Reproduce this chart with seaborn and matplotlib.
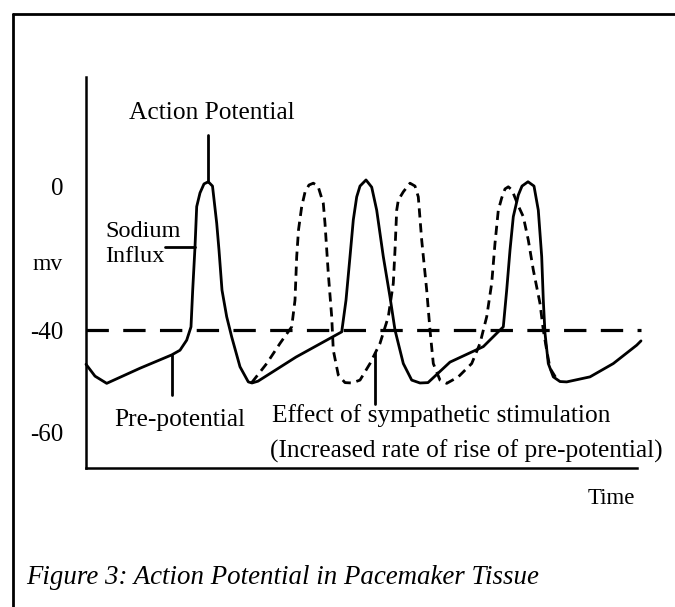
import numpy as np
import pandas as pd
import matplotlib.pyplot as plt
import seaborn as sns
from matplotlib.lines import Line2D

# === Data (time in arbitrary units, potential in mV) ===
normal_t = [0, 9, 20.7, 54, 85.7, 94, 100.7, 105, 106.7, 109, 110.7, 114, 118, 122.3,
            126.5, 130.7, 133, 136, 140.7, 145.7, 154, 162.3, 166, 172, 210, 255.7,
            260, 264, 267.3, 270.7, 274, 280, 285.7, 290.7, 297.3, 304, 309, 317.3,
            325.7, 334, 342, 364, 397.3, 414, 417.3, 420.7, 424, 427.3, 432.3, 436,
            442, 448, 452.3, 455.7, 457.3, 459, 462.3, 467.3, 474, 480.7, 504, 527.3,
            550.7, 555]
normal_mv = [-49.5, -52.8, -54.8, -50.6, -46.9, -45.6, -42.8, -39.1, -28.9, -16.9, -5.7,
             -1.9, 0.6, 1.2, 0, -10.3, -17.8, -28.9, -36.3, -41.9, -50.2, -54.4, -54.7,
             -54.2, -47.5, -40.5, -31.7, -19.6, -9.4, -3.0, 0, 1.7, -0.3, -6.7, -19.6,
             -30.8, -40.0, -49.3, -53.9, -54.7, -54.6, -48.9, -44.6, -40.0, -39.1, -28.9,
             -17.8, -8.5, -2.5, 0, 1.2, 0, -6.7, -19.6, -31.7, -40.9, -49.3, -53.0,
             -54.3, -54.4, -53.0, -49.3, -44.2, -43.0]

symp_t = [165.7, 180.7, 194, 205.7, 209, 210.7, 212.5, 215.7, 219, 223, 227.3, 232,
          237.3, 239, 242.3, 245.7, 247.3, 252.3, 259, 266, 274, 284, 294, 302.3, 307.3,
          309, 310.7, 312.3, 317.3, 324, 329, 332.3, 335.7, 340.7, 344, 347.3, 354,
          360.7, 372.3, 385.7, 394, 400.7, 405.7, 409, 412.3, 415.7, 419, 422.3, 426,
          432, 437.3, 442.3, 447.3, 454, 457.3, 460.7, 464, 470]
symp_mv = [-54.6, -49.3, -43.7, -39.1, -31.7, -19.6, -12.2, -5.7, -1.7, 0.3, 0.8, 0,
           -4.8, -10.4, -24.3, -36.3, -45.6, -52.5, -54.6, -54.7, -53.9, -49.3, -43.7,
           -36.3, -27.0, -17.8, -6.7, -3.9, -1.6, 0.8, 0, -3.0, -15.0, -28.9, -40.0,
           -49.3, -53.9, -54.8, -53.0, -49.3, -43.7, -36.3, -27.0, -15.9, -6.7, -3.3,
           -0.8, -0.2, -1.1, -5.3, -8.5, -15.0, -23.3, -32.6, -40.0, -45.6, -50.6, -53.3]

threshold_t = [0, 555]
threshold_mv = [-40, -40]

ytick_values = [0, -40, -68.5]
ytick_labels = ["0", "-40", "-60"]

normal = pd.DataFrame({"t": normal_t, "mv": normal_mv})
symp = pd.DataFrame({"t": symp_t, "mv": symp_mv})

# === Plot ===
sns.set_theme(style="white")
plt.rcParams["font.family"] = ["Liberation Serif", "DejaVu Serif"]

fig = plt.figure(figsize=(6.75, 6.07), dpi=100)
ax = fig.add_axes([86 / 675, 1 - 468.3 / 607, 550.7 / 675, (468.3 - 77) / 607])

sns.lineplot(data=normal, x="t", y="mv", ax=ax, color="black", lw=2.0,
             sort=False, clip_on=False)
sns.lineplot(data=symp, x="t", y="mv", ax=ax, color="black", lw=2.0,
             linestyle=(0, (3.3, 2.1)), sort=False, clip_on=False)
ax.plot(threshold_t, threshold_mv, color="black", lw=2.3,
        linestyle=(0, (7, 4.5)), clip_on=False)

ax.set_xlim(0, 550.7)
ax.set_ylim(-78.4, 30.3)
sns.despine(ax=ax)
for side in ["left", "bottom"]:
    ax.spines[side].set_color("black")
    ax.spines[side].set_linewidth(1.8)

ax.set_xticks([])
ax.set_yticks(ytick_values, ytick_labels)
ax.tick_params(axis="y", length=0, pad=16, labelsize=18, colors="black")
ax.set_xlabel("")
ax.set_ylabel("")

# annotations
txt = dict(color="black", fontsize=18.3, clip_on=False)
ax.text(-38, -21.9, "mv", ha="center", va="center", color="black", fontsize=17)
ax.text(525, -86.7, "Time", ha="center", va="center", color="black", fontsize=16.5)

ax.text(125.7, 20.2, "Action Potential", ha="center", va="center", **txt)
ax.plot([122.3, 122.3], [1.2, 14.2], color="black", lw=2.0)

ax.text(19, -16.1, "Sodium\nInflux", ha="left", va="center", linespacing=1.2,
        color="black", fontsize=17.5)
ax.plot([79, 109], [-17, -17], color="black", lw=2.0)

ax.text(94, -65, "Pre-potential", ha="center", va="center", **txt)
ax.plot([85.7, 85.7], [-46.9, -58.1], color="black", lw=2.0)

ax.text(185.7, -63.6, "Effect of sympathetic stimulation", ha="left", va="center", **txt)
ax.text(184, -73.8, "(Increased rate of rise of pre-potential)", ha="left",
        va="center", **txt)
ax.plot([289, 289], [-46.4, -60.4], color="black", lw=2.0)

# frame lines of the figure box
fig.add_artist(Line2D([12.5 / 675, 12.5 / 675], [0, 1 - 13.5 / 607],
                      transform=fig.transFigure, color="black", lw=2))
fig.add_artist(Line2D([12.5 / 675, 1], [1 - 13.5 / 607, 1 - 13.5 / 607],
                      transform=fig.transFigure, color="black", lw=2))

fig.text(26 / 675, 1 - 578 / 607, "Figure 3: Action Potential in Pacemaker Tissue",
         ha="left", va="center", fontsize=19.4, style="italic", color="black")

fig.savefig("out.png", dpi=100)
